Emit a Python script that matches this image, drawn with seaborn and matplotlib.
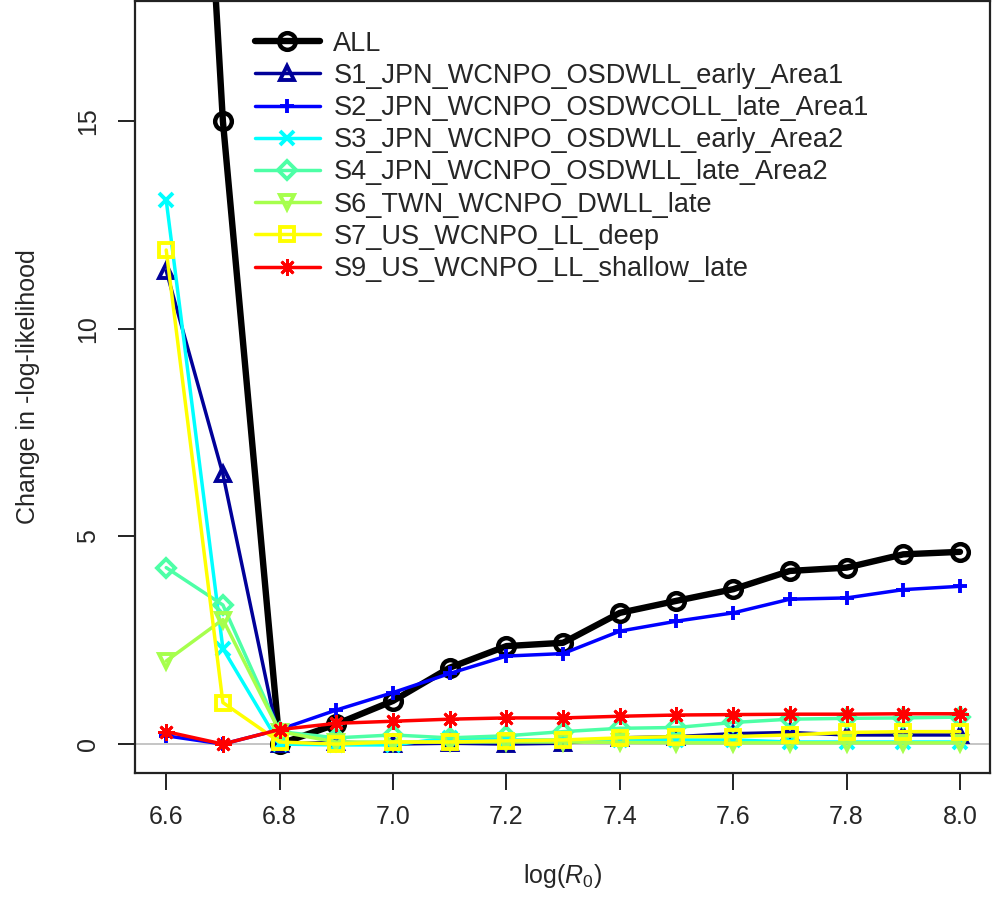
import matplotlib
matplotlib.use("Agg")
import matplotlib.pyplot as plt
import seaborn as sns

# Likelihood profile over log(R0)
log_r0 = [6.6, 6.7, 6.8, 6.9, 7.0, 7.1, 7.2, 7.3, 7.4, 7.5, 7.6, 7.7, 7.8, 7.9, 8.0]

all_vals = [38.5, 15.0, 0.0, 0.48, 1.04, 1.84, 2.36, 2.44, 3.16, 3.45, 3.73, 4.17, 4.25, 4.57, 4.63]
s1_vals = [11.4, 6.5, 0.0, 0.05, 0.0, 0.02, 0.0, 0.02, 0.15, 0.18, 0.25, 0.28, 0.22, 0.22, 0.22]
s2_vals = [0.2, 0.0, 0.35, 0.82, 1.24, 1.7, 2.12, 2.18, 2.72, 2.96, 3.16, 3.49, 3.52, 3.72, 3.8]
s3_vals = [13.1, 2.3, 0.0, -0.02, -0.02, 0.15, 0.1, 0.1, 0.1, 0.1, 0.1, 0.05, 0.05, 0.05, 0.05]
s4_vals = [4.25, 3.35, 0.3, 0.15, 0.22, 0.15, 0.2, 0.3, 0.38, 0.4, 0.52, 0.6, 0.62, 0.63, 0.65]
s6_vals = [2.0, 3.0, 0.3, 0.05, 0.05, 0.05, 0.05, 0.05, 0.04, 0.03, 0.03, 0.03, 0.03, 0.03, 0.03]
s7_vals = [11.9, 1.0, 0.05, 0.0, 0.05, 0.05, 0.08, 0.1, 0.15, 0.18, 0.18, 0.22, 0.28, 0.3, 0.3]
s9_vals = [0.3, 0.0, 0.35, 0.5, 0.55, 0.6, 0.63, 0.63, 0.67, 0.7, 0.71, 0.72, 0.72, 0.73, 0.73]

fleets = ["S1_JPN_WCNPO_OSDWLL_early_Area1",
          "S2_JPN_WCNPO_OSDWCOLL_late_Area1",
          "S3_JPN_WCNPO_OSDWLL_early_Area2",
          "S4_JPN_WCNPO_OSDWLL_late_Area2",
          "S6_TWN_WCNPO_DWLL_late",
          "S7_US_WCNPO_LL_deep",
          "S9_US_WCNPO_LL_shallow_late"]
fleet_vals = [s1_vals, s2_vals, s3_vals, s4_vals, s6_vals, s7_vals, s9_vals]
fleet_cols = ["#000099", "#0000FF", "#00FFFF", "#4DFFA6", "#A6FF4D", "#FFFF00", "#FF0000"]
fleet_marks = ["^", "+", "x", "D", "v", "s", (8, 2, 0)]

sns.set_style("white")
plt.rcParams["font.family"] = ["Liberation Sans", "DejaVu Sans"]
plt.rcParams["mathtext.fontset"] = "custom"
plt.rcParams["mathtext.rm"] = "Liberation Sans"
plt.rcParams["mathtext.it"] = "Liberation Sans:italic"

fig = plt.figure(figsize=(9.95, 8.99), dpi=100)
ax = fig.add_axes([0.1357, 0.14, 0.8593, 0.859])

ax.axhline(0, color="#BBBBBB", lw=1.2, zorder=0)

sns.lineplot(x=log_r0, y=all_vals, ax=ax, color="black", lw=4.6, marker="o",
             markersize=12, markerfacecolor="none", markeredgecolor="black",
             markeredgewidth=3.2, label="ALL")

for name, vals, col, mk in zip(fleets, fleet_vals, fleet_cols, fleet_marks):
    mew = 2.0 if isinstance(mk, tuple) else 2.8
    ms = 12 if isinstance(mk, tuple) else 9.5
    sns.lineplot(x=log_r0, y=vals, ax=ax, color=col, lw=2.5, marker=mk,
                 markersize=ms, markerfacecolor="none", markeredgecolor=col,
                 markeredgewidth=mew, label=name)

ax.set_xlim(6.545, 8.053)
ax.set_ylim(-0.70, 17.9)
ax.set_xticks([6.6, 6.8, 7.0, 7.2, 7.4, 7.6, 7.8, 8.0])
ax.set_xticklabels(["6.6", "6.8", "7.0", "7.2", "7.4", "7.6", "7.8", "8.0"])
ax.set_yticks([0, 5, 10, 15])
ax.set_yticklabels(["0", "5", "10", "15"], rotation=90, va="center")

for sp in ax.spines.values():
    sp.set_color("#222222")
    sp.set_linewidth(1.6)

ax.tick_params(axis="both", direction="out", length=12, width=1.4,
               color="#222222", labelsize=18, pad=11, bottom=True, left=True)
ax.tick_params(axis="y", pad=13)

ax.set_xlabel("log($R_0$)", fontsize=18, labelpad=24)
ax.set_ylabel("Change in -log-likelihood", fontsize=18, labelpad=26)

ax.legend(loc="upper left", bbox_to_anchor=(0.256, 0.966),
          bbox_transform=fig.transFigure, frameon=False, fontsize=19.5,
          handlelength=2.4, handletextpad=0.5, labelspacing=0.23,
          borderpad=0, borderaxespad=0)

fig.savefig("out.png", dpi=100)
